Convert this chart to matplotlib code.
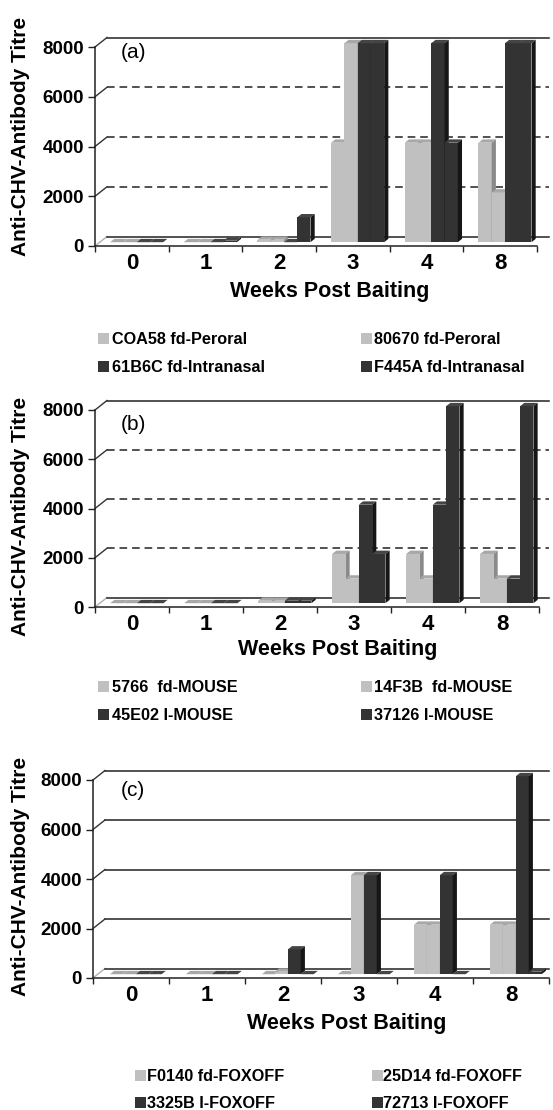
import numpy as np
import matplotlib
matplotlib.use('Agg')
import matplotlib.pyplot as plt
from matplotlib.patches import Polygon, Rectangle

plt.rcParams['font.family'] = ['Liberation Sans', 'DejaVu Sans']

# shared axis data
weeks = ['0', '1', '2', '3', '4', '8']
yticks = [0, 2000, 4000, 6000, 8000]

# panel (a)
names_a = ['COA58 fd-Peroral', '80670 fd-Peroral',
           '61B6C fd-Intranasal', 'F445A fd-Intranasal']
coa58 = [0, 0, 100, 4000, 4000, 4000]
n80670 = [0, 0, 100, 8000, 4000, 2000]
n61b6c = [0, 0, 0, 8000, 8000, 8000]
f445a = [0, 60, 1000, 8000, 4000, 8000]

# panel (b)
names_b = ['5766  fd-MOUSE', '14F3B  fd-MOUSE', '45E02 I-MOUSE', '37126 I-MOUSE']
m5766 = [0, 0, 100, 2000, 2000, 2000]
m14f3b = [0, 0, 100, 1000, 1000, 1000]
m45e02 = [0, 0, 100, 4000, 4000, 1000]
m37126 = [0, 0, 100, 2000, 8000, 8000]

# panel (c)
names_c = ['F0140 fd-FOXOFF', '25D14 fd-FOXOFF', '3325B I-FOXOFF', '72713 I-FOXOFF']
f0140 = [0, 0, 0, 0, 2000, 2000]
n25d14 = [0, 0, 100, 4000, 2000, 2000]
n3325b = [0, 0, 1000, 4000, 4000, 8000]
n72713 = [0, 0, 0, 0, 0, 100]

LIGHT = ('#c0c0c0', '#a8a8a8', '#8a8a8a')   # front, top, side
DARK = ('#333333', '#454545', '#161616')
colors = [LIGHT, LIGHT, DARK, DARK]

W, H = 553, 1110
fig = plt.figure(figsize=(W / 100, H / 100), dpi=100)


def fy(y):
    return 1 - y / H


def panel(x0, x1, y0, y8, series, bw, dashed):
    catw = (x1 - x0) / 6
    ax = fig.add_axes([x0 / W, fy(y0), (W - x0) / W, (y0 - y8) / H])
    xr = -0.5 + (W - 4 - x0) / catw
    ax.set_xlim(-0.5, -0.5 + (W - x0) / catw)
    ax.set_ylim(0, 8000)
    wx = 12 / catw
    wy = 9.5 * 8000 / (y0 - y8)
    f0, f1 = 0.4, 0.75
    d = f1 - f0

    # floor
    ax.add_patch(Polygon([(-0.5, 0), (5.5, 0), (xr, wy), (-0.5 + wx, wy)],
                         closed=True, facecolor='white', lw=0, zorder=1,
                         clip_on=False))
    ax.plot([-0.5, -0.5 + wx], [0, wy], color='#b0b0b0', lw=1.0,
            zorder=1.5, clip_on=False)

    # back wall gridlines and left wall diagonals
    for v in yticks:
        if v == 0 or v == 8000 or not dashed:
            ls = '-'
        else:
            ls = (0, (5, 3.2))
        ax.plot([-0.5 + wx, xr], [v + wy, v + wy], color='#222222', lw=1.1,
                ls=ls, zorder=1.5, clip_on=False)
        if v > 0:
            ax.plot([-0.5, -0.5 + wx], [v, v + wy], color='#333333', lw=1.0,
                    zorder=1.5, clip_on=False)

    # bars
    x = np.arange(len(weeks))
    n = len(series)
    z = 2
    for c in range(len(weeks)):
        for i in range(n):
            left = x[c] - n * bw / 2 + i * bw + f0 * wx
            base = f0 * wy
            v = series[i][c]
            front, topc, sidec = colors[i]
            ax.bar(left, v, width=bw, bottom=base, align='edge',
                   color=front, lw=0, zorder=z, clip_on=False)
            r = left + bw
            t = base + v
            ax.add_patch(Polygon([(left, t), (r, t), (r + d * wx, t + d * wy),
                                  (left + d * wx, t + d * wy)], closed=True,
                                 facecolor=topc, lw=0, zorder=z, clip_on=False))
            ax.add_patch(Polygon([(r, base), (r + d * wx, base + d * wy),
                                  (r + d * wx, t + d * wy), (r, t)], closed=True,
                                 facecolor=sidec, lw=0, zorder=z, clip_on=False))
            z += 0.01

    # axes lines and ticks
    for s in ['top', 'right']:
        ax.spines[s].set_visible(False)
    ax.spines['left'].set_bounds(0, 8000)
    ax.spines['bottom'].set_bounds(-0.5, 5.5)
    for s in ['left', 'bottom']:
        ax.spines[s].set_color('#222222')
        ax.spines[s].set_linewidth(1.1)
        ax.spines[s].set_zorder(5)
    ax.set_yticks(yticks)
    ax.set_yticklabels([str(v) for v in yticks], fontsize=13.5, fontweight='bold')
    ax.tick_params(axis='y', length=5, width=1, pad=3, color='#222222')
    ax.set_xticks(np.arange(len(weeks) + 1) - 0.5)
    ax.set_xticklabels([])
    ax.set_xticks(x, minor=True)
    ax.set_xticklabels(weeks, minor=True, fontsize=16, fontweight='bold')
    ax.tick_params(axis='x', which='major', length=4, width=1, color='#222222')
    ax.tick_params(axis='x', which='minor', length=0, pad=5)
    ax.set_facecolor('none')
    return ax


def texts(tag, tag_y, ylab_y, xlab_x, xlab_y):
    fig.text(121 / W, fy(tag_y), tag, ha='left', va='center', fontsize=15)
    fig.text(21 / W, fy(ylab_y), 'Anti-CHV-Antibody Titre', rotation=90,
             ha='center', va='center', fontsize=15, fontweight='bold')
    fig.text(xlab_x / W, fy(xlab_y), 'Weeks Post Baiting', ha='center',
             va='center', fontsize=15.5, fontweight='bold')


def legend(names, rows, mx, tx):
    for k, name in enumerate(names):
        row, col = k // 2, k % 2
        ry = rows[row]
        fig.patches.append(Rectangle((mx[col] / W, fy(ry + 5.5)), 11 / W, 11 / H,
                                     transform=fig.transFigure,
                                     facecolor=colors[k][0], lw=0))
        fig.text(tx[col] / W, fy(ry + 5.8), name, ha='left', va='baseline',
                 fontsize=11.7, fontweight='bold')


panel(95, 537, 246, 47, [coa58, n80670, n61b6c, f445a], 0.18, True)
texts('(a)', 52, 136, 330, 292)
legend(names_a, [338, 366], [98, 361], [112, 374])

panel(95, 539, 607, 410, [m5766, m14f3b, m45e02, m37126], 0.18, True)
texts('(b)', 425, 516, 338, 649)
legend(names_b, [686, 714], [98, 361], [112, 374])

panel(93, 549, 978, 780, [f0140, n25d14, n3325b, n72713], 0.17, False)
texts('(c)', 790, 876, 347, 1023)
legend(names_c, [1075, 1102], [135, 372], [147, 383])

fig.savefig('out.png', dpi=100)
